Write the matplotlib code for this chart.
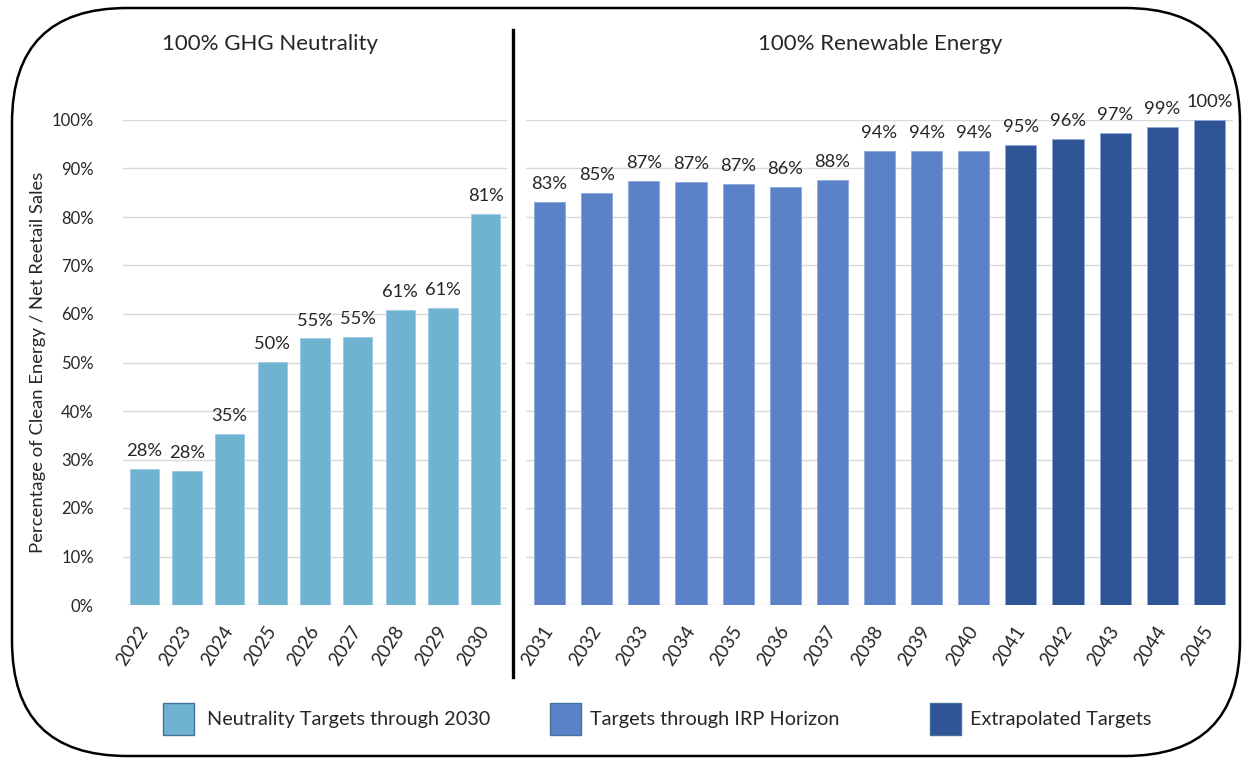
import matplotlib
matplotlib.use("Agg")
import matplotlib.pyplot as plt
from matplotlib.patches import FancyBboxPatch, Rectangle
from matplotlib.lines import Line2D

plt.rcParams['font.family'] = ['Lato', 'DejaVu Sans']

# data (percent of clean energy / net retail sales)
ghg_years = ['2022', '2023', '2024', '2025', '2026', '2027', '2028', '2029', '2030']
ghg_values = [28.1, 27.7, 35.3, 50.1, 55.0, 55.3, 60.8, 61.2, 80.6]

re_years = ['2031', '2032', '2033', '2034', '2035', '2036', '2037', '2038',
            '2039', '2040', '2041', '2042', '2043', '2044', '2045']
re_values = [83.1, 85.0, 87.4, 87.2, 86.8, 86.2, 87.6, 93.6,
             93.6, 93.6, 94.8, 96.1, 97.3, 98.6, 100.0]
re_group = ['irp'] * 10 + ['extra'] * 5

legend_labels = ['Neutrality Targets through 2030', 'Targets through IRP Horizon',
                 'Extrapolated Targets']

c_ghg = '#70B2D2'
c_irp = '#5B81C8'
c_ext = '#2F5597'
txt = '#262626'
grid_c = '#D9D9D9'

W, H = 1243, 759
fig = plt.figure(figsize=(W / 100, H / 100), dpi=100)

def fx(px):
    return px / W

def fy(py):
    return 1 - py / H

def setup(ax, years, show_y):
    ax.set_ylim(0, 100)
    ax.set_xlim(-0.5, len(years) - 0.5)
    ax.set_yticks(range(0, 101, 10))
    ax.yaxis.grid(True, color=grid_c, lw=1)
    ax.set_axisbelow(True)
    for s in ax.spines.values():
        s.set_visible(False)
    ax.set_xticks(range(len(years)))
    ax.set_xticklabels(years, rotation=57, ha='right', va='center',
                       rotation_mode='anchor', fontsize=13.5, color=txt)
    ax.tick_params(axis='x', length=0, pad=16)
    ax.tick_params(axis='y', length=0, pad=21, labelsize=12, labelcolor=txt)
    if show_y:
        ax.set_yticklabels([f'{t}%' for t in range(0, 101, 10)])
    else:
        ax.set_yticklabels([])

def label_bars(ax, bars, values):
    for b, v in zip(bars, values):
        ax.annotate(f'{round(v)}%', (b.get_x() + b.get_width() / 2, v),
                    xytext=(0, 7), textcoords='offset points', ha='center',
                    va='bottom', fontsize=13.2, color=txt, clip_on=False)

# left panel
ax1 = fig.add_axes([fx(123), fy(605), fx(507) - fx(123), fy(120) - fy(605)])
setup(ax1, ghg_years, True)
bars1 = ax1.bar(range(len(ghg_years)), ghg_values, width=0.68, color=c_ghg,
                edgecolor='#9CCBE3', linewidth=0.6, zorder=3)
label_bars(ax1, bars1, ghg_values)

# right panel
ax2 = fig.add_axes([fx(526), fy(605), fx(1233) - fx(526), fy(120) - fy(605)])
setup(ax2, re_years, False)
cols = [c_irp if g == 'irp' else c_ext for g in re_group]
bars2 = ax2.bar(range(len(re_years)), re_values, width=0.66, color=cols,
                edgecolor='#8FA8DA', linewidth=0.6, zorder=3)
label_bars(ax2, bars2, re_values)

fig.text(fx(270), fy(44), '100% GHG Neutrality', ha='center', va='center',
         fontsize=16, color=txt)
fig.text(fx(880), fy(44), '100% Renewable Energy', ha='center', va='center',
         fontsize=16, color=txt)
fig.text(fx(38), fy(362), 'Percentage of Clean Energy / Net Reetail Sales',
         rotation=90, ha='center', va='center', fontsize=13.3, color=txt)

# divider between the two panels
fig.add_artist(Line2D([fx(513), fx(513)], [fy(30), fy(677)],
                      transform=fig.transFigure, color='black', lw=2.4))

# legend
leg_x = [163, 550, 930]
leg_c = [c_ghg, c_irp, c_ext]
for x0, c, lab in zip(leg_x, leg_c, legend_labels):
    fig.add_artist(Rectangle((fx(x0), fy(735)), 31 / W, 32 / H,
                             transform=fig.transFigure, facecolor=c,
                             edgecolor='#41719C', lw=1))
    fig.text(fx(x0 + 44) if x0 == 163 else fx(x0 + 40), fy(719), lab,
             ha='left', va='center', fontsize=14.3, color=txt)

# rounded frame
fig.add_artist(FancyBboxPatch((12, H - 756), 1228, 748,
                              boxstyle='round,pad=0,rounding_size=115',
                              transform=None, fill=False, ec='black', lw=1.8))

fig.savefig('out.png', dpi=100)
